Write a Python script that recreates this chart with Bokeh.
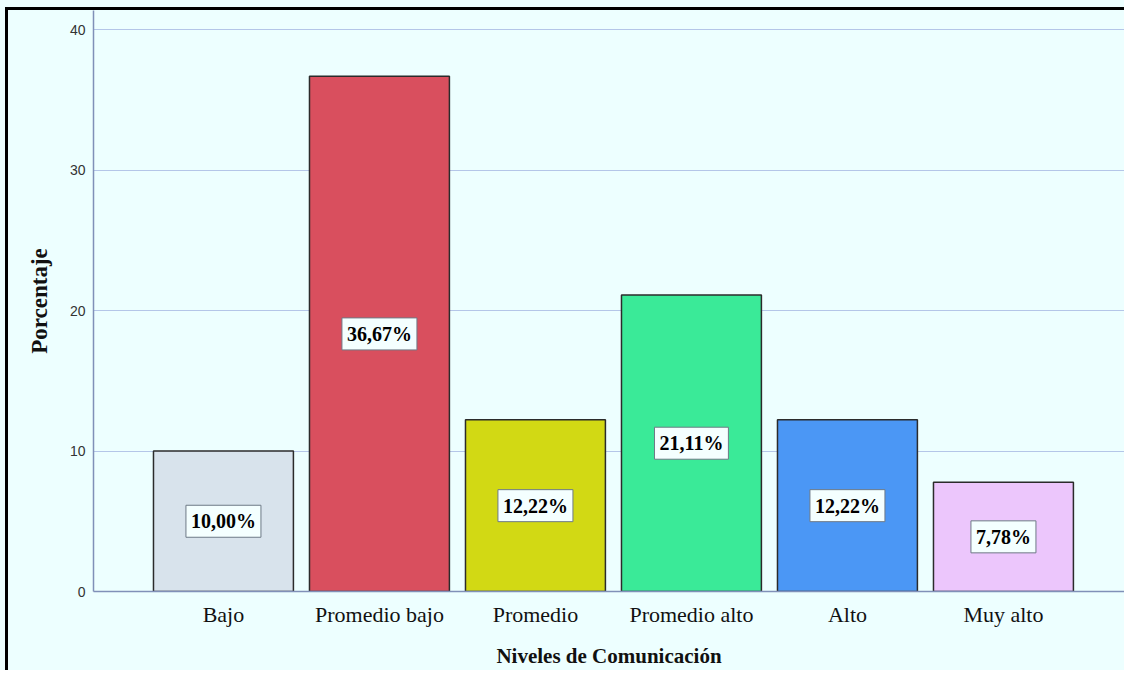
from bokeh.plotting import figure
from bokeh.models import Range1d, ColumnDataSource
from bokeh.core.properties import value
from bokeh.embed import file_html
from bokeh.resources import INLINE

categories = ["Bajo", "Promedio bajo", "Promedio", "Promedio alto", "Alto", "Muy alto"]
percentages = [10.00, 36.67, 12.22, 21.11, 12.22, 7.78]
value_labels = ["10,00%", "36,67%", "12,22%", "21,11%", "12,22%", "7,78%"]
bar_colors = ["#D8E3EC", "#D94F5E", "#D2D914", "#3AEA98", "#4B97F5", "#ECC6FC"]
y_ticks = [0, 10, 20, 30, 40]

idx = list(range(len(categories)))
src = ColumnDataSource(dict(
    x=idx,
    top=percentages,
    mid=[v / 2 for v in percentages],
    label=value_labels,
    color=bar_colors,
))

BG = "#EDFFFF"
frame_css = ("linear-gradient(#000,#000) 5px 7px / 3px 100% no-repeat, "
             "linear-gradient(#000,#000) 5px 7px / 100% 3px no-repeat, " + BG)
p = figure(
    width=1124, height=670,
    output_backend="svg", toolbar_location=None,
    x_range=Range1d(-0.833, 5.776), y_range=Range1d(0, 41.355),
    min_border_left=93, min_border_right=0, min_border_top=10, min_border_bottom=78,
    background_fill_color=BG, border_fill_color=BG, border_fill_alpha=0.0,
    styles={"background": frame_css},
)
p.outline_line_color = None

p.vbar(x="x", top="top", bottom=0, width=0.897, fill_color="color",
       line_color="#2B2B2B", line_width=1.5, source=src)

p.text(x="x", y="mid", text="label", text_align="center", text_baseline="middle",
       text_font=value("Liberation Serif"), text_font_style="bold", text_font_size="20px",
       text_color="#000000", background_fill_color="#F4FFFF",
       border_line_color="#6E7A86", border_line_width=1, padding=5, source=src)

# x axis
p.xaxis.ticker = idx
p.xaxis.major_label_overrides = {i: c for i, c in zip(idx, categories)}
p.xaxis.axis_label = "Niveles de Comunicación"
p.xaxis.axis_label_text_font = "Liberation Serif"
p.xaxis.axis_label_text_font_style = "bold"
p.xaxis.axis_label_text_font_size = "21px"
p.xaxis.axis_label_text_color = "#111111"
p.xaxis.axis_label_standoff = 14
p.xaxis.major_label_text_font = "Liberation Serif"
p.xaxis.major_label_text_font_size = "22px"
p.xaxis.major_label_text_color = "#111111"
p.xaxis.major_label_standoff = 10
p.xaxis.major_tick_line_color = None
p.xaxis.minor_tick_line_color = None
p.xaxis.major_tick_out = 0
p.xaxis.major_tick_in = 0
p.xaxis.axis_line_color = "#8090B8"
p.xaxis.axis_line_width = 1.5

# y axis
p.yaxis.ticker = y_ticks
p.yaxis.axis_label = "Porcentaje"
p.yaxis.axis_label_text_font = "Liberation Serif"
p.yaxis.axis_label_text_font_style = "bold"
p.yaxis.axis_label_text_font_size = "23px"
p.yaxis.axis_label_text_color = "#111111"
p.yaxis.axis_label_standoff = 15
p.yaxis.major_label_text_font = "Liberation Sans"
p.yaxis.major_label_text_font_size = "14px"
p.yaxis.major_label_text_color = "#333333"
p.yaxis.major_label_standoff = 8
p.yaxis.major_tick_line_color = None
p.yaxis.minor_tick_line_color = None
p.yaxis.major_tick_out = 0
p.yaxis.major_tick_in = 0
p.yaxis.axis_line_color = "#8090B8"
p.yaxis.axis_line_width = 1.5

p.xgrid.grid_line_color = None
p.ygrid.grid_line_color = "#B4C6E8"
p.ygrid.grid_line_width = 1.2

open("out.html", "w").write(file_html(p, INLINE))
